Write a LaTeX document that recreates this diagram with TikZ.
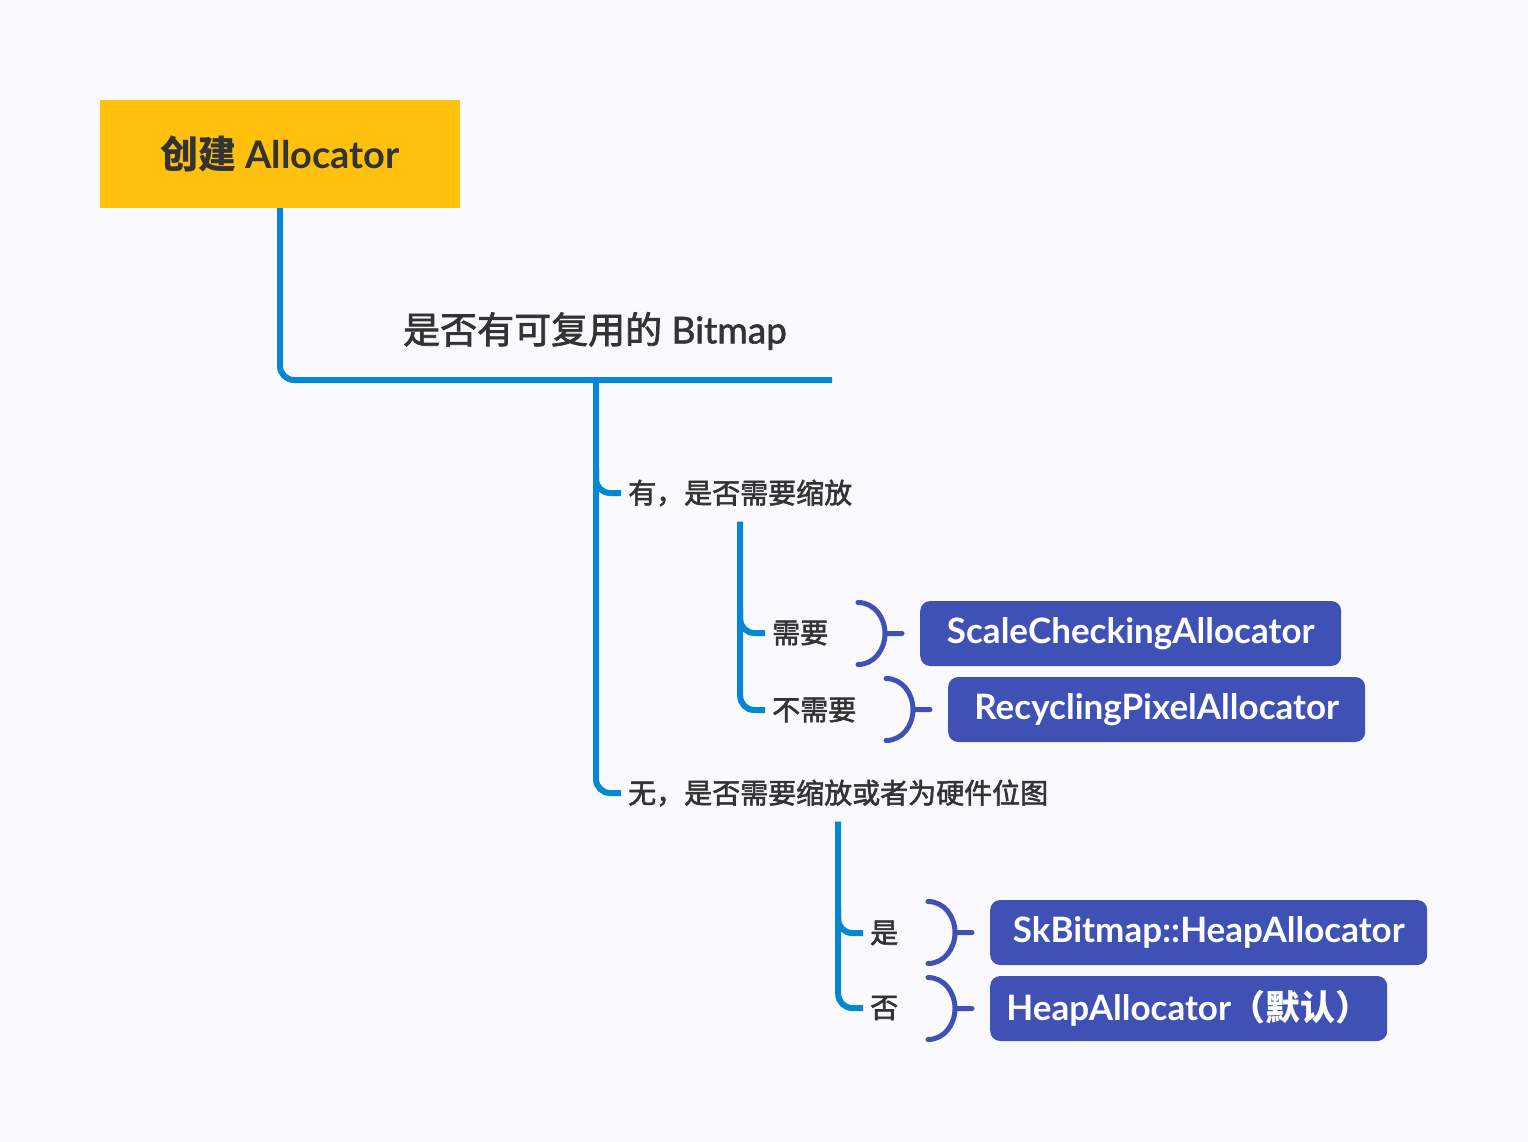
\documentclass[tikz,border=0pt]{standalone}
\usepackage{fontspec}
\setmainfont{Lato}
\newfontfamily\cjk{Noto Sans CJK SC}
\newfontfamily\cjkmid{Noto Sans CJK SC}[FakeBold=2]
\newfontfamily\latomid{Lato}[FakeBold=1.5]
\usetikzlibrary{calc}

\definecolor{canvasbg}{HTML}{F9F9FE}
\definecolor{rootyellow}{HTML}{FFC10D}
\definecolor{treeblue}{HTML}{0588D1}
\definecolor{leafblue}{HTML}{3F51B5}
\definecolor{inkgray}{HTML}{333333}

\begin{document}
\begin{tikzpicture}[x=1pt, y=-1pt,
	every node/.style={inner sep=0pt, text=inkgray},
	tree/.style={draw=treeblue, line width=6pt, rounded corners=14pt},
	brace/.style={draw=leafblue, line width=5pt, line cap=round},
	branchtext/.style={anchor=west, font=\fontsize{28}{30}\selectfont\cjkmid},
	leafbox/.style={anchor=west, fill=leafblue, rounded corners=10pt, minimum height=65pt, text=white, font=\fontsize{35}{38}\selectfont\bfseries}]
	\fill[canvasbg] (0,0) rectangle (1528,1142);
	% root and first question
	\node[fill=rootyellow, minimum width=360pt, minimum height=108pt, font=\fontsize{38}{40}\selectfont\bfseries] (root) at (280,154) {{\cjk\bfseries 创建} Allocator};
	\node[font=\fontsize{37}{40}\selectfont\latomid] (reuse) at (595,331) {{\cjkmid 是否有可复用的} Bitmap};
	\coordinate (reuseEnd) at (832,380);
	\coordinate (reuseFork) at (596,380);
	\draw[tree] (root.south) |- (reuseEnd);
	% second level
	\node[branchtext] (have) at (628,493) {有，是否需要缩放};
	\node[branchtext] (none) at (628,793) {无，是否需要缩放或者为硬件位图};
	\draw[tree, shorten >=7pt] (reuseFork) |- (none.west);
	\draw[tree, shorten >=7pt] ($(reuseFork |- have.west)+(0,-24)$) |- (have.west);
	% third level
	\coordinate (haveFork) at ($(have.south)+(0,15)$);
	\coordinate (noneFork) at ($(none.south)+(0,15)$);
	\node[branchtext] (scale) at (772,633) {需要};
	\node[branchtext] (keep) at (772,710) {不需要};
	\node[branchtext] (hw) at (870,933) {是};
	\node[branchtext] (sw) at (870,1008) {否};
	\draw[tree, shorten >=7pt] (haveFork) |- (keep.west);
	\draw[tree, shorten >=7pt] ($(haveFork |- scale.west)+(0,-24)$) |- (scale.west);
	\draw[tree, shorten >=7pt] (noneFork) |- (sw.west);
	\draw[tree, shorten >=7pt] ($(noneFork |- hw.west)+(0,-24)$) |- (hw.west);
	% allocators
	\foreach \n/\x/\y/\w/\t in {scaleBox/920/633.5/421/ScaleCheckingAllocator,
		keepBox/948/709.5/417/RecyclingPixelAllocator,
		hwBox/990/932.5/437/SkBitmap::HeapAllocator,
		swBox/990/1008.5/397/{HeapAllocator{\cjk\bfseries（默认）}}}
		\node[leafbox, minimum width=\w pt] (\n) at (\x,\y) {\t};
	\foreach \n in {scaleBox, keepBox, hwBox, swBox}
		\draw[brace] ([xshift=-62pt, yshift=31pt]\n.west) to[out=0, in=90] ([xshift=-35pt]\n.west)
			to[out=-90, in=0] ([xshift=-62pt, yshift=-31pt]\n.west)
			([xshift=-35pt]\n.west) -- ([xshift=-18pt]\n.west);
\end{tikzpicture}
\end{document}
